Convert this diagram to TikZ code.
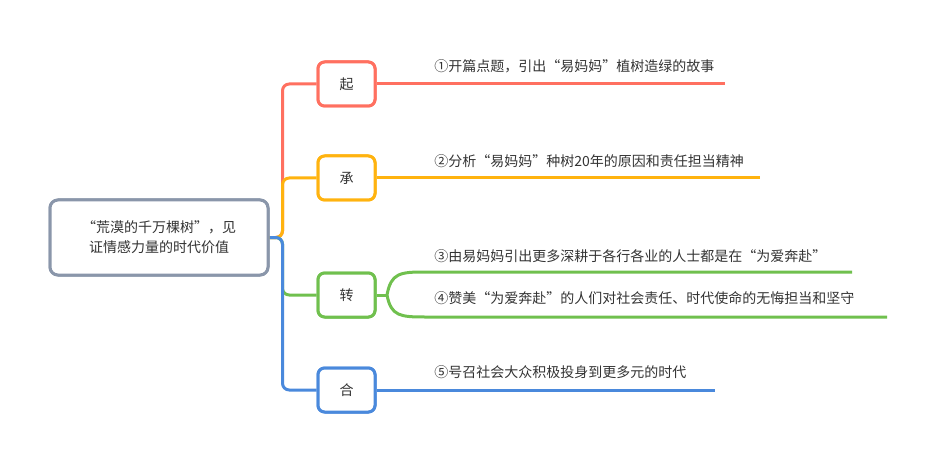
\documentclass[tikz,border=0pt]{standalone}
\usepackage{fontspec}
\newfontfamily\cjk{Noto Sans CJK SC}
\definecolor{cred}{RGB}{255,112,96}
\definecolor{corange}{RGB}{255,179,15}
\definecolor{cgreen}{RGB}{112,192,78}
\definecolor{cblue}{RGB}{74,137,220}
\definecolor{cgray}{RGB}{138,150,170}
\definecolor{ctext}{RGB}{51,51,51}
\begin{document}
\begin{tikzpicture}[x=0.75pt,y=-0.75pt,
  every node/.style={font=\cjk\fontsize{10.5}{15}\selectfont, text=ctext},
  rootbox/.style={draw=cgray, line width=2.25pt, fill=white, rounded corners=6pt,
    minimum width=163.5pt, minimum height=56.25pt, align=center, inner sep=0pt},
  subbox/.style={draw=#1, line width=2.25pt, fill=white, rounded corners=5pt,
    minimum width=42.75pt, minimum height=33pt, inner sep=0pt},
  lbl/.style={anchor=west, inner sep=0pt},
  conn/.style={draw=#1, line width=2.25pt, rounded corners=5pt}
]
\useasboundingbox (0,0) rectangle (937,463);

% subject boxes
\node[subbox=cred] (qi) at (346.5,84) {起};
\node[subbox=corange] (cheng) at (346.5,178) {承};
\node[subbox=cgreen] (zhuan) at (346.5,295) {转};
\node[subbox=cblue] (he) at (346.5,390) {合};

% labels
\node[lbl] (t1) at (434,66) {①开篇点题，引出“易妈妈”植树造绿的故事};
\node[lbl] (t2) at (434,161) {②分析“易妈妈”种树20年的原因和责任担当精神};
\node[lbl] (t3) at (434,256) {③由易妈妈引出更多深耕于各行各业的人士都是在“为爱奔赴”};
\node[lbl] (t4) at (434,298) {④赞美“为爱奔赴”的人们对社会责任、时代使命的无悔担当和坚守};
\node[lbl] (t5) at (434,372) {⑤号召社会大众积极投身到更多元的时代};

% end coordinates
\coordinate (e1) at (725,84);
\coordinate (e2) at (760,178);
\coordinate (e3) at (852,272);
\coordinate (e4) at (887,317);
\coordinate (e5) at (715,390);
\coordinate (fork) at (387,295);

% root
\node[rootbox] (root) at (159,237.5) {“荒漠的千万棵树”，见\\证情感力量的时代价值};

% spine connectors
\draw[conn=cred] (root.east) -- ++(13,0) |- (qi.west);
\draw[conn=corange] (root.east) -- ++(13,0) |- (cheng.west);
\draw[conn=cgreen] (root.east) -- ++(13,0) |- (zhuan.west);
\draw[conn=cblue] (root.east) -- ++(13,0) |- (he.west);

% branch lines
\draw[conn=cred] (qi.east) -- (e1);
\draw[conn=corange] (cheng.east) -- (e2);
\draw[conn=cblue] (he.east) -- (e5);
\draw[conn=cgreen] (zhuan.east) -- (fork);
\draw[draw=cgreen, line width=2.25pt] (fork) .. controls (391,273) and (400,272) .. (425,272) -- (e3);
\draw[draw=cgreen, line width=2.25pt] (fork) .. controls (391,316) and (400,317) .. (425,317) -- (e4);

% redraw boxes above connectors
\node[subbox=cred] at (qi) {起};
\node[subbox=corange] at (cheng) {承};
\node[subbox=cgreen] at (zhuan) {转};
\node[subbox=cblue] at (he) {合};
\node[rootbox] at (root) {“荒漠的千万棵树”，见\\证情感力量的时代价值};
\end{tikzpicture}
\end{document}
